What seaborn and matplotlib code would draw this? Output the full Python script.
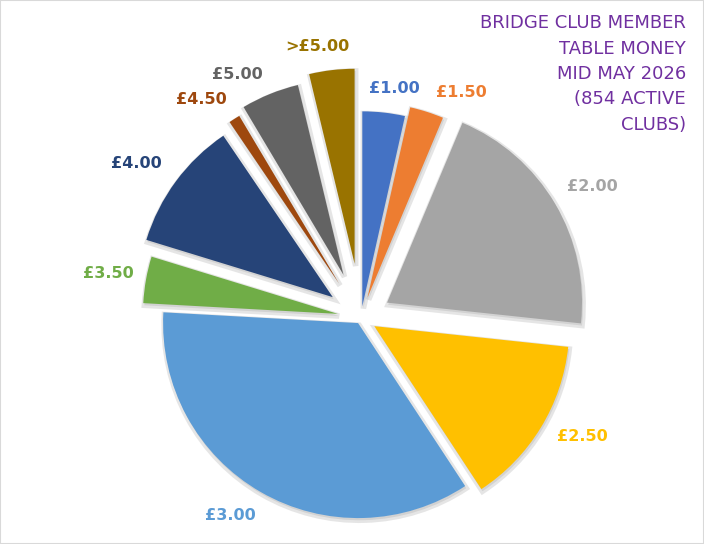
import matplotlib

matplotlib.use("Agg")
import matplotlib.pyplot as plt
import seaborn as sns
import numpy as np

# table money per session and number of clubs charging it
prices = ["£1.00", "£1.50", "£2.00", "£2.50", "£3.00", "£3.50", "£4.00", "£4.50", "£5.00", ">£5.00"]
clubs = [30, 24, 174, 120, 300, 33, 92, 8, 41, 32]
title_lines = ["BRIDGE CLUB MEMBER", "TABLE MONEY", "MID MAY 2026", "(854 ACTIVE", "CLUBS)"]

colors = ["#4472C4", "#ED7D31", "#A5A5A5", "#FFC000", "#5B9BD5",
          "#70AD47", "#264478", "#9E480E", "#636363", "#997300"]
explode = [0.06, 0.11, 0.155, 0.08, 0.03, 0.12, 0.18, 0.21, 0.24, 0.28]
# label placement: radius (pie units) and angular nudge (degrees, clockwise)
label_r = [1.187, 1.267, 1.362, 1.287, 1.217, 1.317, 1.401, 1.388, 1.40, 1.412]
label_nudge = [1.9, 6.2, 1.0, -3.1, 3.6, -0.2, -1.9, -3.6, -4.7, -2.3]

sns.set_theme(style="white")
plt.rcParams["font.family"] = ["DejaVu Sans"]

W, H = 704, 544
fig = plt.figure(figsize=(W / 100, H / 100), dpi=100)
ax = fig.add_axes([0, 0, 1, 1])

wedges, _ = ax.pie(
    clubs,
    colors=colors,
    explode=explode,
    startangle=90,
    counterclock=False,
    radius=1,
    shadow=dict(ox=0.004, oy=-0.008, facecolor="#9a9a9a", edgecolor="#9a9a9a",
                alpha=0.25, linewidth=4),
    wedgeprops=dict(linewidth=0),
)

for i, w in enumerate(wedges):
    mid = (w.theta1 + w.theta2) / 2
    ang = np.deg2rad(mid - label_nudge[i])
    x = label_r[i] * np.cos(ang)
    y = label_r[i] * np.sin(ang)
    ax.text(x, y, prices[i], ha="center", va="center", fontsize=11.5,
            fontweight="bold", color=colors[i])

# title, one right-aligned line at a time (baselines in pixels from top)
for i, line in enumerate(title_lines):
    base = 28 + 25.5 * i
    fig.text(686 / W, 1 - base / H, line, ha="right", va="baseline",
             fontsize=13, color="#7030A0")

r_px = 195
ax.set_xlim(-361 / r_px, (W - 361) / r_px)
ax.set_ylim(-(H - 318) / r_px, 318 / r_px)
ax.set_aspect("auto")
ax.axis("off")

fig.patches.append(plt.Rectangle((0, 0), 1, 1, transform=fig.transFigure,
                                 fill=False, edgecolor="#d9d9d9", linewidth=1.5))

fig.savefig("out.png", dpi=100, facecolor="white")
